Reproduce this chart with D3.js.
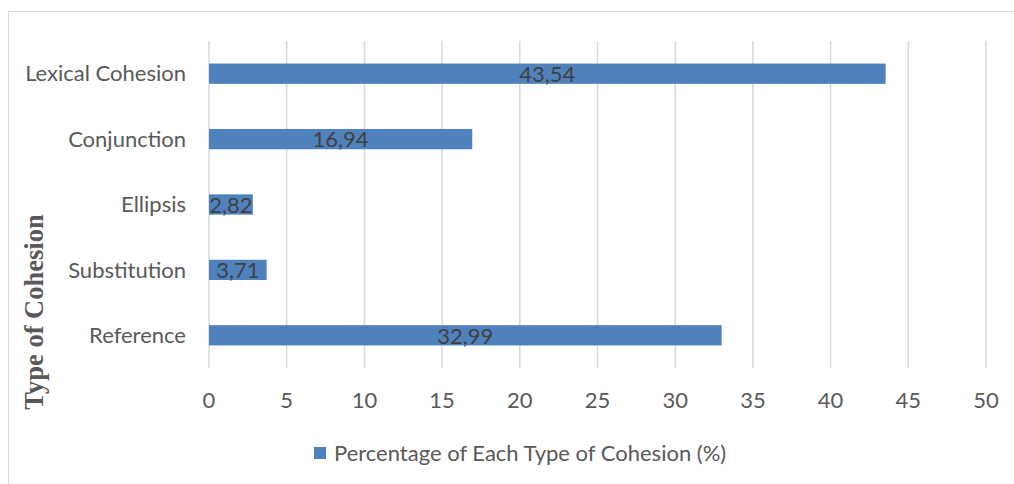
<!DOCTYPE html>
<html>
<head>
    <meta charset="utf-8">
    <script src="https://cdn.jsdelivr.net/npm/d3@7"></script>
    <style>
        body { margin: 0; background: #fff; }
    </style>
</head>
<body>
    <svg width="1014" height="484" font-family="Lato, 'Open Sans', sans-serif"></svg>
<script>
    // data
    var categories = ["Lexical Cohesion", "Conjunction", "Ellipsis", "Substitution", "Reference"];
    var values = [43.54, 16.94, 2.82, 3.71, 32.99];
    var xTicks = [0, 5, 10, 15, 20, 25, 30, 35, 40, 45, 50];
    var seriesName = "Percentage of Each Type of Cohesion (%)";
    var axisTitle = "Type of Cohesion";

    var data = categories.map(function (c, i) { return { name: c, value: values[i] }; });

    var svg = d3.select("svg");
    var plotL = 209, plotR = 986, plotT = 41, plotB = 368;
    var fs = 22;

    var x = d3.scaleLinear().domain([0, 50]).range([plotL, plotR]);
    var y = d3.scaleBand().domain(categories).range([plotT, plotB]).paddingInner(0.69).paddingOuter(0.345);

    // outer frame
    svg.append("rect")
        .attr("x", 8.5).attr("y", 11.5)
        .attr("width", 1020).attr("height", 500)
        .attr("fill", "none").attr("stroke", "#d9d9d9");

    // vertical gridlines
    svg.append("g").selectAll("line")
        .data(xTicks)
        .enter().append("line")
        .attr("x1", function (d) { return x(d); })
        .attr("x2", function (d) { return x(d); })
        .attr("y1", plotT).attr("y2", plotB)
        .attr("stroke", "#d9d9d9").attr("stroke-width", 1.5);

    // x tick labels
    svg.append("g").selectAll("text")
        .data(xTicks)
        .enter().append("text")
        .attr("x", function (d) { return x(d); })
        .attr("y", 408)
        .attr("text-anchor", "middle")
        .attr("font-size", fs)
        .attr("fill", "#595959")
        .text(function (d) { return d; });

    // category labels
    svg.append("g").selectAll("text")
        .data(categories)
        .enter().append("text")
        .attr("x", 186)
        .attr("y", function (d) { return y(d) + y.bandwidth() / 2; })
        .attr("dy", "0.35em")
        .attr("text-anchor", "end")
        .attr("font-size", fs)
        .attr("fill", "#595959")
        .text(function (d) { return d; });

    // bars
    svg.append("g").selectAll("rect")
        .data(data)
        .enter().append("rect")
        .attr("x", x(0))
        .attr("y", function (d) { return y(d.name); })
        .attr("width", function (d) { return x(d.value) - x(0); })
        .attr("height", y.bandwidth())
        .attr("fill", "#4f81bd");

    // value labels
    var fmt = function (v) { return v.toFixed(2).replace(".", ","); };
    svg.append("g").selectAll("text")
        .data(data)
        .enter().append("text")
        .attr("x", function (d) { return (x(0) + x(d.value)) / 2; })
        .attr("y", function (d) { return y(d.name) + y.bandwidth() / 2; })
        .attr("dy", "0.38em")
        .attr("text-anchor", "middle")
        .attr("font-size", fs)
        .attr("fill", "#404040")
        .text(function (d) { return fmt(d.value); });

    // y-axis title
    svg.append("text")
        .attr("transform", "translate(43,312) rotate(-90)")
        .attr("text-anchor", "middle")
        .attr("font-family", "'Liberation Serif', serif")
        .attr("font-weight", "bold")
        .attr("font-size", 26.5)
        .attr("fill", "#595959")
        .text(axisTitle);

    // legend
    var lg = svg.append("g").attr("transform", "translate(314,447)");
    lg.append("rect").attr("width", 12).attr("height", 12).attr("fill", "#4f81bd");
    lg.append("text")
        .attr("x", 20).attr("y", 6).attr("dy", "0.36em")
        .attr("font-size", fs)
        .attr("fill", "#595959")
        .text(seriesName);
</script>
</body>
</html>
